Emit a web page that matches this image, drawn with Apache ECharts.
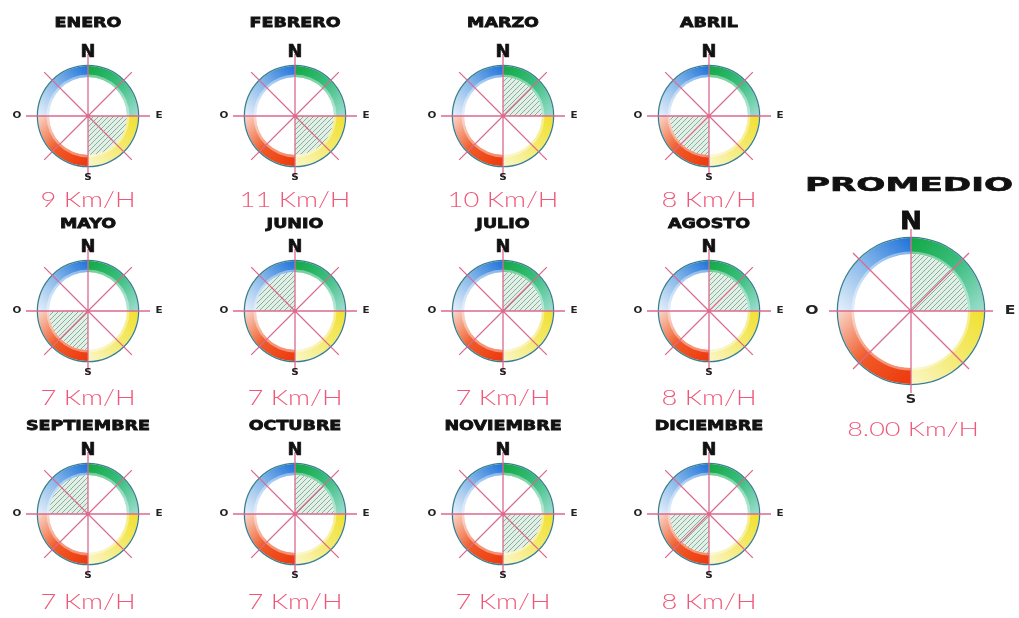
<!DOCTYPE html>
<html><head><meta charset="utf-8">
<script src="https://cdn.jsdelivr.net/npm/echarts@6/dist/echarts.min.js"></script>
<style>html,body{margin:0;padding:0;background:#fff}#c{width:1019px;height:618px}</style>
</head><body><div id="c"></div>
<script>
// ---- data ----
const months = ['ENERO','FEBRERO','MARZO','ABRIL','MAYO','JUNIO','JULIO','AGOSTO','SEPTIEMBRE','OCTUBRE','NOVIEMBRE','DICIEMBRE'];
const speeds = [9, 11, 10, 8, 7, 7, 7, 8, 7, 7, 7, 8];
const dominantQuadrant = ['SE','SE','NE','SO','SO','NO','NE','NE','NO','NE','SE','SO'];
const averageTitle = 'PROMEDIO';
const averageSpeed = '8.00';
const averageQuadrant = 'NE';
const quadrants = ['NE','SE','SO','NO'];
const directions = ['N','NE','E','SE','S','SO','O','NO'];
const speedUnit = 'Km/H';
const compass = {n:'N', e:'E', s:'S', w:'O'};

// ---- layout ----
const colX = [88, 295, 503, 709];
const rowY = [116, 311, 514];
const titleY = [23, 224, 426];
const speedY = [200, 398, 602];

function hatchCanvas(){
  const c = document.createElement('canvas'); c.width = c.height = 5;
  const g = c.getContext('2d');
  g.fillStyle = '#e2efe6'; g.fillRect(0,0,5,5);
  g.strokeStyle = '#6f9f86'; g.lineWidth = 0.8;
  g.beginPath();
  g.moveTo(-1,6); g.lineTo(6,-1);
  g.moveTo(-1,1); g.lineTo(1,-1);
  g.moveTo(4,6); g.lineTo(6,4);
  g.stroke();
  return c;
}
const hatch = hatchCanvas();

function grad(x,y,x2,y2,stops){
  return {type:'linear', x, y, x2, y2, colorStops: stops.map((c,i)=>({offset:i/(stops.length-1), color:c}))};
}
const ringColors = [
  grad(0,0,1,1,['#12a844','#3cbf80','#9fded0']),
  grad(1,0,0,1,['#f1e030','#f4ea70','#fbf6c8']),
  grad(1,1,0,0,['#ee380c','#f05a28','#f9d8cc']),
  grad(0,1,1,0,['#e6f0fa','#86b8ea','#1e72da'])
];
const off = {show:false};

const option = {
  animation:false,
  backgroundColor:'#ffffff',
  polar:[], angleAxis:[], radiusAxis:[], series:[], graphic:[]
};

function addRose(cx, cy, rIn, rOut, rLine, quad){
  const pl = option.polar.length;
  // guide lines for the 8 directions
  option.polar.push({center:[cx,cy], radius:rLine});
  option.angleAxis.push({polarIndex:pl, type:'category', data:directions, boundaryGap:false, startAngle:90, clockwise:true, z:5,
    axisLine:off, axisTick:off, axisLabel:off, splitArea:off,
    splitLine:{show:true, interval:0, lineStyle:{color:'#da6a8e', width:1.3, type:'solid'}}});
  option.radiusAxis.push({polarIndex:pl, type:'value', min:0, max:1, axisLine:off, axisTick:off, axisLabel:off, splitLine:off, splitArea:off});
  // dominant quadrant
  option.polar.push({center:[cx,cy], radius:rIn});
  option.angleAxis.push({polarIndex:pl+1, type:'category', data:quadrants, startAngle:90, clockwise:true,
    axisLine:off, axisTick:off, axisLabel:off, splitLine:off, splitArea:off});
  option.radiusAxis.push({polarIndex:pl+1, type:'value', min:0, max:100, axisLine:off, axisTick:off, axisLabel:off, splitLine:off, splitArea:off});
  option.series.push({type:'bar', coordinateSystem:'polar', polarIndex:pl+1, barCategoryGap:'0%', silent:true, z:3,
    data: quadrants.map(q => q === quad ? 100 : 0),
    itemStyle:{color:{image:hatch, repeat:'repeat'}}});
  // coloured ring
  option.series.push({type:'pie', center:[cx,cy], radius:[rIn, rOut], startAngle:90, clockwise:true, silent:true, z:2,
    label:off, labelLine:off, itemStyle:{borderWidth:0},
    data: quadrants.map((q,i)=>({name:q, value:1, itemStyle:{color:ringColors[i]}}))});
  option.series.push({type:'pie', center:[cx,cy], radius:[rIn, rIn+2.5], startAngle:90, silent:true, z:2,
    label:off, labelLine:off, itemStyle:{color:'rgba(255,255,255,0.4)', borderWidth:0},
    data:[{name:'in', value:1}]});
  option.series.push({type:'pie', center:[cx,cy], radius:[rOut, rOut+1.3], startAngle:90, silent:true, z:2,
    label:off, labelLine:off, itemStyle:{color:'#3a7f8f', borderWidth:0},
    data:[{name:'out', value:1}]});
}

function txt(x, y, text, font, fill, sx, stroke){
  const st = {text, font, fill, align:'center', verticalAlign:'middle'};
  if (stroke) { st.stroke = fill; st.lineWidth = stroke; }
  option.graphic.push({type:'text', x, y, scaleX: sx || 1, silent:true, z:10, style:st});
}

months.forEach((m, i) => {
  const col = i % 4, row = Math.floor(i / 4);
  const cx = colX[col], cy = rowY[row];
  addRose(cx, cy, 39, 50, 62, dominantQuadrant[i]);
  txt(cx, titleY[row], m, 'bold 14px "DejaVu Sans"', '#111', 1.25, 0.8);
  txt(cx, cy - 63, compass.n, 'bold 17px "DejaVu Sans"', '#111', 1.05, 0.6);
  txt(cx + 71, cy, compass.e, 'bold 8px "DejaVu Sans"', '#222', 1.3);
  txt(cx - 71, cy, compass.w, 'bold 8px "DejaVu Sans"', '#222', 1.3);
  txt(cx, cy + 62, compass.s, 'bold 8px "DejaVu Sans"', '#222', 1.3);
  txt(cx, speedY[row], speeds[i] + ' ' + speedUnit, '300 21px Lato', '#f0587a', 1.3);
});

// average rose
const ax = 911, ay = 311;
addRose(ax, ay, 57, 73, 82, averageQuadrant);
txt(909, 186, averageTitle, 'bold 19px "DejaVu Sans"', '#111', 1.8, 0.6);
txt(ax, ay - 89, compass.n, 'bold 25px "DejaVu Sans"', '#111', 1.05, 0.8);
txt(ax + 99, ay, compass.e, 'bold 13px "DejaVu Sans"', '#222', 1.2);
txt(ax - 99, ay, compass.w, 'bold 13px "DejaVu Sans"', '#222', 1.2);
txt(ax, ay + 89, compass.s, 'bold 12px "DejaVu Sans"', '#222', 1.2);
txt(ax + 2, 430, averageSpeed + ' ' + speedUnit, '300 20px Lato', '#f0587a', 1.35);

const chart = echarts.init(document.getElementById('c'));
chart.setOption(option);
</script>
</body></html>
